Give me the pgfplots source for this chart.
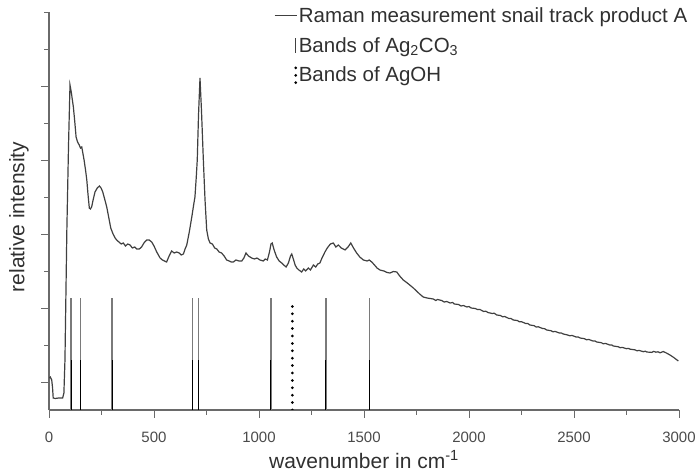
\documentclass[border=0pt]{standalone}
\usepackage{fontspec}
\setmainfont{Liberation Sans}
\usepackage{pgfplots}
\pgfplotsset{compat=1.18}
\definecolor{axgray}{HTML}{6A6A6A}
\definecolor{specgray}{HTML}{404040}
\definecolor{bandgray}{HTML}{7A7A7A}
\definecolor{txtgray}{HTML}{303030}
\definecolor{ticktxt}{HTML}{4A4A4A}
\pgfplotsset{
  legline/.style={legend image code/.code={\draw[##1] (0bp,0bp) -- (22bp,0bp);}},
  legbar/.style={legend image code/.code={\draw[##1] (21bp,-7.5bp) -- (21bp,7.5bp);}},
  legbardark/.style={legend image code/.code={\draw[##1, specgray, line width=1.4bp] (21bp,-7.5bp) -- (21bp,7.5bp);}},
}
\begin{document}
\begin{tikzpicture}
\useasboundingbox (0,0) rectangle (699bp,472bp);
\begin{axis}[
  scale only axis, width=630bp, height=398bp,
  at={(49bp,62bp)}, anchor=south west,
  xmin=0, xmax=3000, ymin=0, ymax=398,
  axis x line*=bottom, axis y line*=left,
  axis line style={-, axgray, line width=1.2bp},
  tick align=outside,
  tick style={axgray, line width=1bp},
  major tick length=7.5bp, minor tick length=4.5bp,
  xtick={0,500,...,3000}, minor xtick={250,750,...,2750},
  ytick={27,101,175,249,323}, minor ytick={64,138,212,286,360,397},
  yticklabels={},
  /pgf/number format/assume math mode=true,
  /pgf/number format/1000 sep={},
  xticklabel style={font=\fontsize{15bp}{18bp}\selectfont, text=ticktxt, yshift=-11bp},
  xlabel={wavenumber in cm\textsuperscript{-1}},
  ylabel={relative intensity},
  xlabel style={font=\fontsize{21bp}{25bp}\selectfont, text=txtgray, at={(axis description cs:0.5,-0.146)}, anchor=base},
  ylabel style={font=\fontsize{21bp}{25bp}\selectfont, text=txtgray, at={(axis description cs:-0.0476,0.485)}, anchor=center},
  legend cell align=left,
  legend style={draw=none, fill=none, at={(axis description cs:0.357,1.016)}, anchor=north west,
    font=\fontsize{20.5bp}{24bp}\selectfont, text=txtgray, row sep=10.5bp, inner sep=0pt,
    nodes={inner sep=1.5bp}},
]
\addplot[specgray, line width=1.2bp, legline] coordinates {
(1,32) (6,33) (13,30) (17,22) (20,12) (30,11.5) (45,12) (65,12) (71,17) (76,50) (85,180) (93,265) (100,325)
(106,318) (116,303) (122,290) (129,273) (136,268) (144,265) (150,262) (156,263) (162,256) (167,250) (174,240) (180,230)
(186,215) (192,202) (197,201) (203,203) (210,210) (219,218) (230,222) (240,224) (248,222) (256,218) (265,211) (275,203)
(285,192) (294,182) (305,176) (315,172) (322,170) (333,168) (344,166) (354,167) (364,164) (375,166) (386,165)
(397,162) (408,163) (418,161) (430,161) (441,163) (452,167) (465,170) (477,170) (489,168) (500,164) (513,158)
(521,155) (529,152) (540,150) (550,149) (560,148) (572,154) (584,159) (596,157) (608,158) (620,157) (630,155)
(640,156) (648,161) (656,165) (668,178) (680,193) (688,204) (695,213) (701,232) (706,250) (712,295) (719,332)
(726,300) (735,250) (743,210) (751,180) (759,171) (767,167) (778,166) (789,162) (799,161) (810,158) (822,157)
(834,154) (846,150) (858,149) (868,148) (878,148) (890,150) (905,149) (918,149) (928,152) (938,157) (950,154)
(965,152) (978,151) (990,152) (1005,150) (1020,149) (1030,151) (1040,150) (1050,158) (1057,166) (1063,167)
(1072,160) (1084,153) (1096,149) (1108,147) (1118,145) (1129,143) (1140,147) (1150,154) (1156,156) (1165,150)
(1172,145) (1180,142) (1190,140) (1203,138) (1213,141) (1222,139) (1235,142) (1245,140) (1259,145) (1270,143)
(1280,146) (1290,147) (1300,152) (1314,158) (1325,162) (1340,166) (1354,167) (1366,163) (1378,165) (1392,162)
(1410,160) (1424,163) (1437,167) (1450,162) (1465,157) (1480,153) (1497,150) (1515,149) (1525,150) (1537,148)
(1550,145) (1562,142) (1576,140) (1595,139) (1610,137.5) (1624,137) (1640,138.5) (1656,138) (1670,134) (1687,130)
(1700,128) (1715,125.5) (1735,122) (1750,119) (1765,116) (1782,113) (1800,112) (1815,111.5) (1830,111) (1842,109.5)
(1850,110.5) (1870,109.5) (1882,108) (1894,108.5) (1910,107) (1922,107.5) (1930,106) (1950,105.5) (1962,104)
(1973,104.5) (1990,103) (2000,103.5) (2010,102) (2030,101.5) (2040,100.5) (2052,100.5) (2070,98.5) (2080,98.8)
(2090,97.5) (2110,96.5) (2120,96.8) (2132,95) (2150,94.5) (2160,93.2) (2170,93.5) (2190,91.5) (2200,91.5) (2211,90)
(2230,89.5) (2240,88.2) (2250,88.3) (2270,86.5) (2280,86.5) (2290,85) (2310,84.3) (2320,83) (2330,83.2) (2350,81.5)
(2360,81.3) (2370,80) (2390,79.3) (2400,78.2) (2410,78.6) (2430,77) (2440,77) (2449,76) (2470,75) (2480,74.2)
(2490,74.6) (2510,73) (2520,73) (2529,72) (2550,71.3) (2560,70.2) (2570,70.6) (2590,69) (2600,69) (2608,68)
(2630,67.3) (2640,66.2) (2650,66.6) (2670,65) (2680,65) (2687,64) (2710,63.3) (2720,62.3) (2730,62.6) (2750,61.3)
(2760,61.6) (2767,60.8) (2790,60.2) (2800,59.2) (2810,59.6) (2830,58.3) (2840,58.8) (2846,58) (2870,57.6)
(2880,58.6) (2890,57.8) (2900,58.2) (2910,57.2) (2925,58.5) (2940,57) (2957,55) (2975,52.5) (2997,49)
};
\addlegendentry{Raman measurement snail track product A}
\addplot[ycomb, bandgray, line width=1.5bp, mark=none, legbardark] coordinates {
(105,112) (149,112) (300,112) (684,112) (712,112) (1056,112) (1318,112) (1525,112)
};
\addlegendentry{Bands of Ag\textsubscript{2}CO\textsubscript{3}}
\addplot[ycomb, black, line width=3bp, dash pattern=on 0bp off 7.4bp, line cap=round, mark=none, legbar] coordinates {
(1159,110)
};
\addlegendentry{Bands of AgOH}
\addplot[ycomb, black, line width=0.7bp, mark=none, forget plot] coordinates {
(105,50) (149,50) (300,50) (684,50) (712,50) (1056,50) (1318,50) (1525,50)
};
\end{axis}
\end{tikzpicture}
\end{document}
